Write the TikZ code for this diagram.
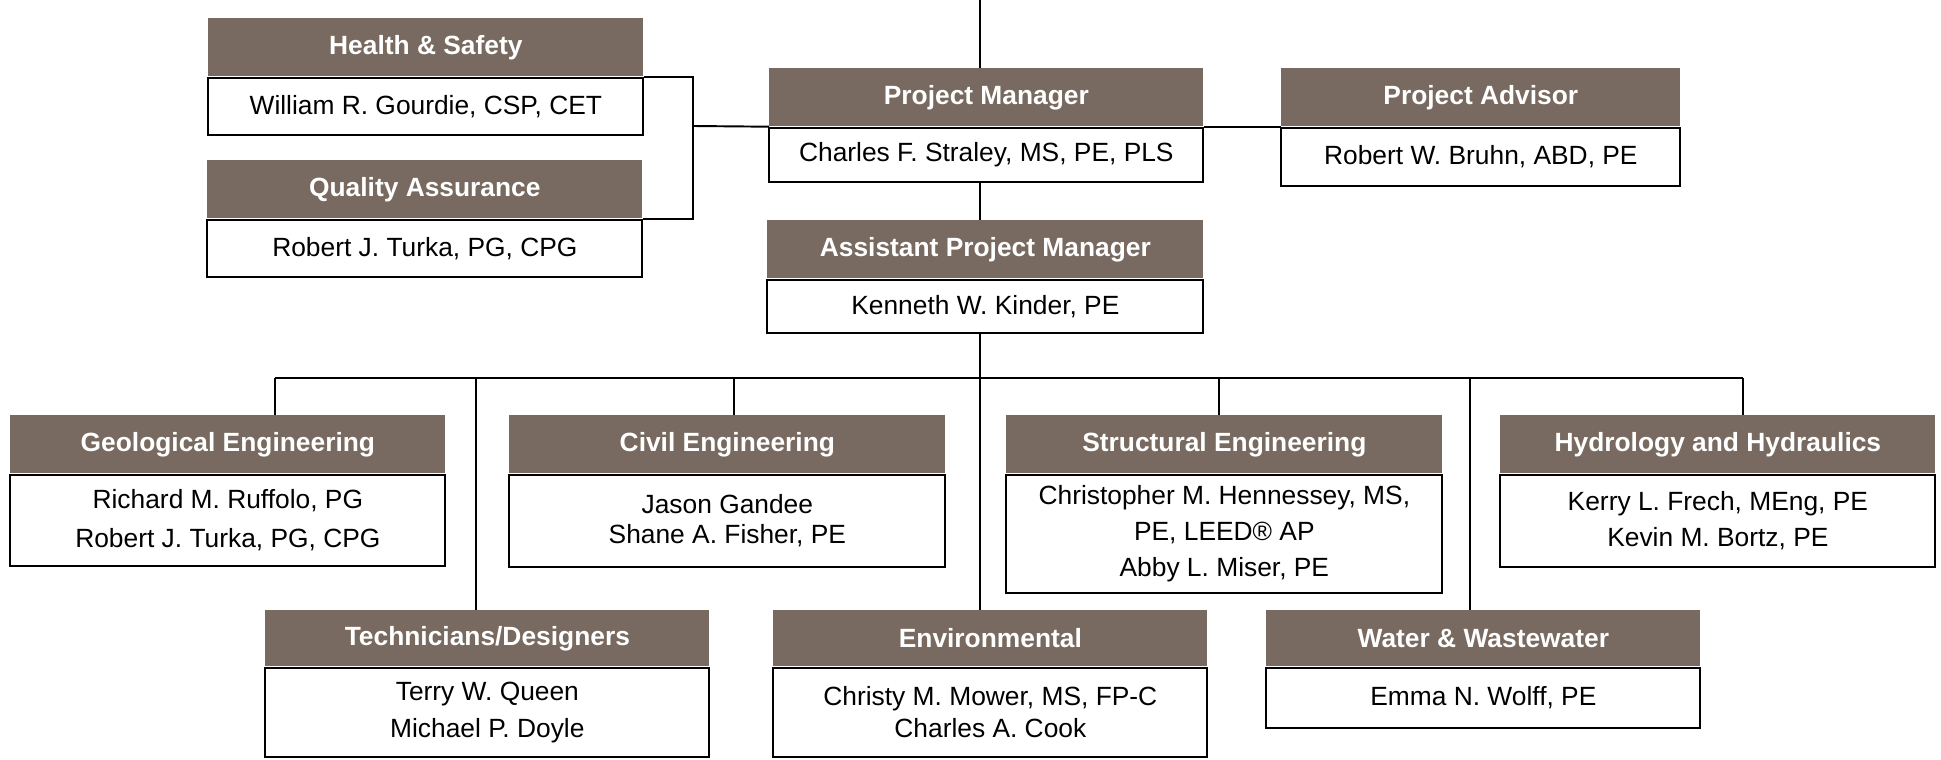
\documentclass[tikz,border=0pt]{standalone}
\usepackage{fontspec}
\setmainfont{Liberation Sans}
\usepackage{xcolor}
\usetikzlibrary{positioning}
\definecolor{headbrown}{RGB}{120,106,96}
\newcommand{\pxu}{0.02cm}
\tikzset{
  headbox/.style 2 args={fill=headbrown,text=white,font=\bfseries\fontsize{15}{18}\selectfont,
    anchor=north west,inner sep=0pt,minimum width={#1*\pxu},minimum height={#2*\pxu}},
  bodybox/.style 2 args={draw,line width=1.1pt,fill=white,font=\fontsize{15}{21}\selectfont,
    align=center,inner sep=0pt,minimum width={#1*\pxu},minimum height={#2*\pxu}},
  link/.style={line width=1.1pt}
}

\begin{document}
\begin{tikzpicture}[x=0.02cm,y=-0.02cm]
  \useasboundingbox (0,0) rectangle (1941,760);
  % staff
  \node[headbox={435}{58}] (hs-h) at (208,18) {Health \& Safety};
  \node[bodybox={435}{57},below=0pt of hs-h] (hs) {William R. Gourdie, CSP, CET};
  \node[headbox={435}{58}] (qa-h) at (207,160) {Quality Assurance};
  \node[bodybox={435}{57},below=0pt of qa-h] (qa) {Robert J. Turka, PG, CPG};
  % management
  \node[headbox={434}{58}] (pm-h) at (769,68) {Project Manager};
  \node[bodybox={434}{54},below=0pt of pm-h] (pm) {Charles F. Straley, MS, PE, PLS};
  \node[headbox={399}{58}] (pa-h) at (1281,68) {Project Advisor};
  \node[bodybox={399}{58},below=0pt of pa-h] (pa) {Robert W. Bruhn, ABD, PE};
  \node[headbox={436}{58}] (apm-h) at (767,220) {Assistant Project Manager};
  \node[bodybox={436}{53},below=0pt of apm-h] (apm) {Kenneth W. Kinder, PE};
  % disciplines, upper row
  \node[headbox={435}{58}] (geo-h) at (10,415) {Geological Engineering};
  \node[bodybox={435}{91},below=0pt of geo-h,font=\fontsize{15}{22.5}\selectfont] (geo)
    {Richard M. Ruffolo, PG\\Robert J. Turka, PG, CPG};
  \node[headbox={436}{58}] (civ-h) at (509,415) {Civil Engineering};
  \node[bodybox={436}{92},below=0pt of civ-h,font=\fontsize{15}{17}\selectfont] (civ)
    {Jason Gandee\\Shane A. Fisher, PE};
  \node[headbox={436}{58}] (str-h) at (1006,415) {Structural Engineering};
  \node[bodybox={436}{118},below=0pt of str-h,font=\fontsize{15}{20.5}\selectfont] (str)
    {Christopher M. Hennessey, MS,\\PE, LEED® AP\\Abby L. Miser, PE};
  \node[headbox={435}{58}] (hh-h) at (1500,415) {Hydrology and Hydraulics};
  \node[bodybox={435}{92},below=0pt of hh-h] (hh)
    {Kerry L. Frech, MEng, PE\\Kevin M. Bortz, PE};
  % disciplines, lower row
  \node[headbox={444}{56}] (tec-h) at (265,610) {Technicians/Designers};
  \node[bodybox={444}{89},below=0pt of tec-h] (tec) {Terry W. Queen\\Michael P. Doyle};
  \node[headbox={434}{56}] (env-h) at (773,610) {Environmental};
  \node[bodybox={434}{89},below=0pt of env-h,font=\fontsize{15}{18.5}\selectfont] (env)
    {Christy M. Mower, MS, FP-C\\Charles A. Cook};
  \node[headbox={434}{56}] (wat-h) at (1266,610) {Water \& Wastewater};
  \node[bodybox={434}{60},below=0pt of wat-h] (wat) {Emma N. Wolff, PE};

  % connectors
  \coordinate (brk) at (693,126);
  \draw[link] (hs-h.south east) -| (brk) |- (qa-h.south east);
  \draw[link] (brk) -- (pm-h.south west);
  \draw[link] (pm-h.south east) -- (pa-h.south west);
  \coordinate (trunk) at (980,378);
  \draw[link] (980,0) -- (980,0 |- pm-h.north);
  \draw[link] (pm.south -| trunk) -- (trunk |- apm-h.north);
  \draw[link] (apm.south -| trunk) -- (trunk |- env-h.north);
  \coordinate (busL) at (275,378);
  \coordinate (busR) at (1743,378);
  \draw[link] (busL) -- (busR);
  \foreach \n/\x in {geo/275,tec/476,civ/734,str/1219,wat/1470,hh/1743}
    \draw[link] (\x,378) -- (\x,378 |- \n-h.north);
\end{tikzpicture}
\end{document}
